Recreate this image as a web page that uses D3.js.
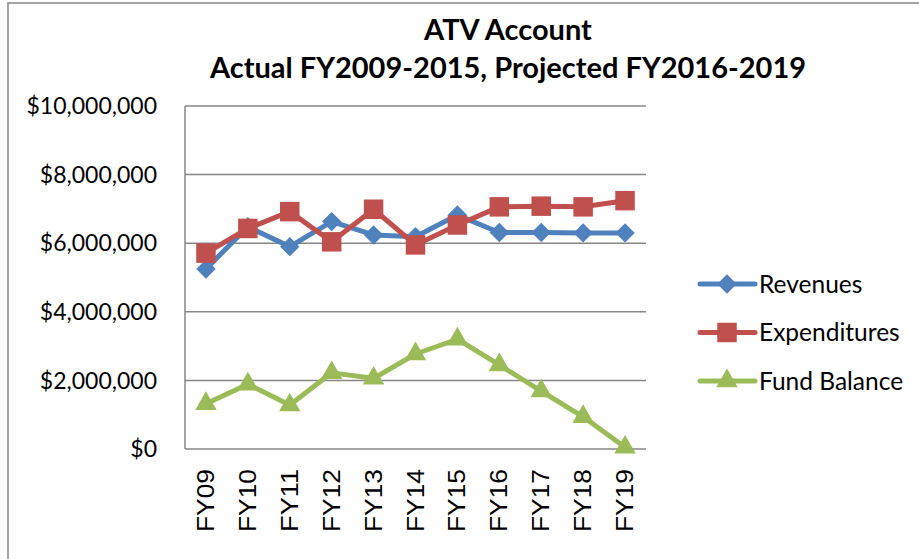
<!DOCTYPE html>
<html>
<head>
<meta charset="utf-8">
<script src="https://cdn.jsdelivr.net/npm/d3@7"></script>
<style>
  body { margin: 0; background: #fff; }
  svg { display: block; }
</style>
</head>
<body>
<svg id="chart" width="919" height="559"></svg>
<script>
// chart data
const years = ["FY09", "FY10", "FY11", "FY12", "FY13", "FY14", "FY15", "FY16", "FY17", "FY18", "FY19"];
const revenues = [5250000, 6480000, 5900000, 6630000, 6240000, 6190000, 6820000, 6310000, 6310000, 6300000, 6300000];
const expenditures = [5710000, 6430000, 6920000, 6040000, 6990000, 5950000, 6530000, 7060000, 7080000, 7060000, 7240000];
const fundBalance = [1320000, 1890000, 1280000, 2220000, 2060000, 2770000, 3200000, 2450000, 1690000, 940000, 50000];
const yTicks = [0, 2000000, 4000000, 6000000, 8000000, 10000000];
const seriesNames = ["Revenues", "Expenditures", "Fund Balance"];

const svg = d3.select("#chart");
const gray = "#868686";
const font = "Lato, 'Open Sans', sans-serif";

const series = [
  { name: seriesNames[0], values: revenues, color: "#4F81BD", symbol: d3.symbolDiamond2, size: 240 },
  { name: seriesNames[1], values: expenditures, color: "#C0504D", symbol: d3.symbolSquare, size: 380 },
  { name: seriesNames[2], values: fundBalance, color: "#9BBB59", symbol: d3.symbolTriangle, size: 200 }
];

// outer frame
svg.append("rect")
  .attr("x", 8).attr("y", 3)
  .attr("width", 940).attr("height", 600)
  .attr("fill", "none")
  .attr("stroke", gray)
  .attr("stroke-width", 1.5);

// title
const title = svg.append("text")
  .attr("text-anchor", "middle")
  .attr("font-family", font)
  .attr("font-weight", "bold")
  .attr("font-size", 29)
  .attr("fill", "#000");
title.append("tspan").attr("x", 508).attr("y", 40).text("ATV Account");
title.append("tspan").attr("x", 508).attr("y", 78).text("Actual FY2009-2015, Projected FY2016-2019");

const x = d3.scalePoint().domain(years).range([185, 646]).padding(0.5);
const y = d3.scaleLinear().domain([0, 10000000]).range([449, 106]);

// gridlines
svg.append("g")
  .selectAll("line")
  .data(yTicks)
  .join("line")
  .attr("x1", 185).attr("x2", 646)
  .attr("y1", d => y(d)).attr("y2", d => y(d))
  .attr("stroke", gray)
  .attr("stroke-width", 1.5);

// axis line
svg.append("line")
  .attr("x1", 185).attr("x2", 185)
  .attr("y1", y(10000000)).attr("y2", y(0))
  .attr("stroke", gray).attr("stroke-width", 1.5);

// y labels
const fmt = d3.format("$,.0f");
svg.append("g")
  .selectAll("text")
  .data(yTicks)
  .join("text")
  .attr("x", 157)
  .attr("y", d => y(d))
  .attr("dy", "0.36em")
  .attr("text-anchor", "end")
  .attr("font-family", font)
  .attr("font-size", 23)
  .text(d => fmt(d));

// x labels
svg.append("g")
  .selectAll("text")
  .data(years)
  .join("text")
  .attr("transform", d => `translate(${x(d) + 8},469) rotate(-90)`)
  .attr("text-anchor", "end")
  .attr("font-family", "'Liberation Sans', Arial, sans-serif")
  .attr("font-size", 23)
  .attr("textLength", 63)
  .attr("lengthAdjust", "spacingAndGlyphs")
  .text(d => d);

// lines and markers
const line = d3.line()
  .x((d, i) => x(years[i]))
  .y(d => y(d));

series.forEach(s => {
  const g = svg.append("g");
  g.append("path")
    .attr("d", line(s.values))
    .attr("fill", "none")
    .attr("stroke", s.color)
    .attr("stroke-width", 5)
    .attr("stroke-linejoin", "round");
  g.selectAll("path.mark")
    .data(s.values)
    .join("path")
    .attr("class", "mark")
    .attr("transform", (d, i) => `translate(${x(years[i])},${y(d)})`)
    .attr("d", d3.symbol().type(s.symbol).size(s.size))
    .attr("fill", s.color);
});

// legend
const legend = svg.append("g")
  .selectAll("g")
  .data(series)
  .join("g")
  .attr("transform", (d, i) => `translate(700,${284 + i * 48.5})`);

legend.append("line")
  .attr("x1", 0).attr("x2", 55)
  .attr("stroke", d => d.color)
  .attr("stroke-width", 5)
  .attr("stroke-linecap", "round");
legend.append("path")
  .attr("transform", "translate(27,0)")
  .attr("d", d => d3.symbol().type(d.symbol).size(d.size)())
  .attr("fill", d => d.color);
legend.append("text")
  .attr("x", 59)
  .attr("dy", "0.36em")
  .attr("font-family", font)
  .attr("font-size", 24.5)
  .text(d => d.name);
</script>
</body>
</html>
